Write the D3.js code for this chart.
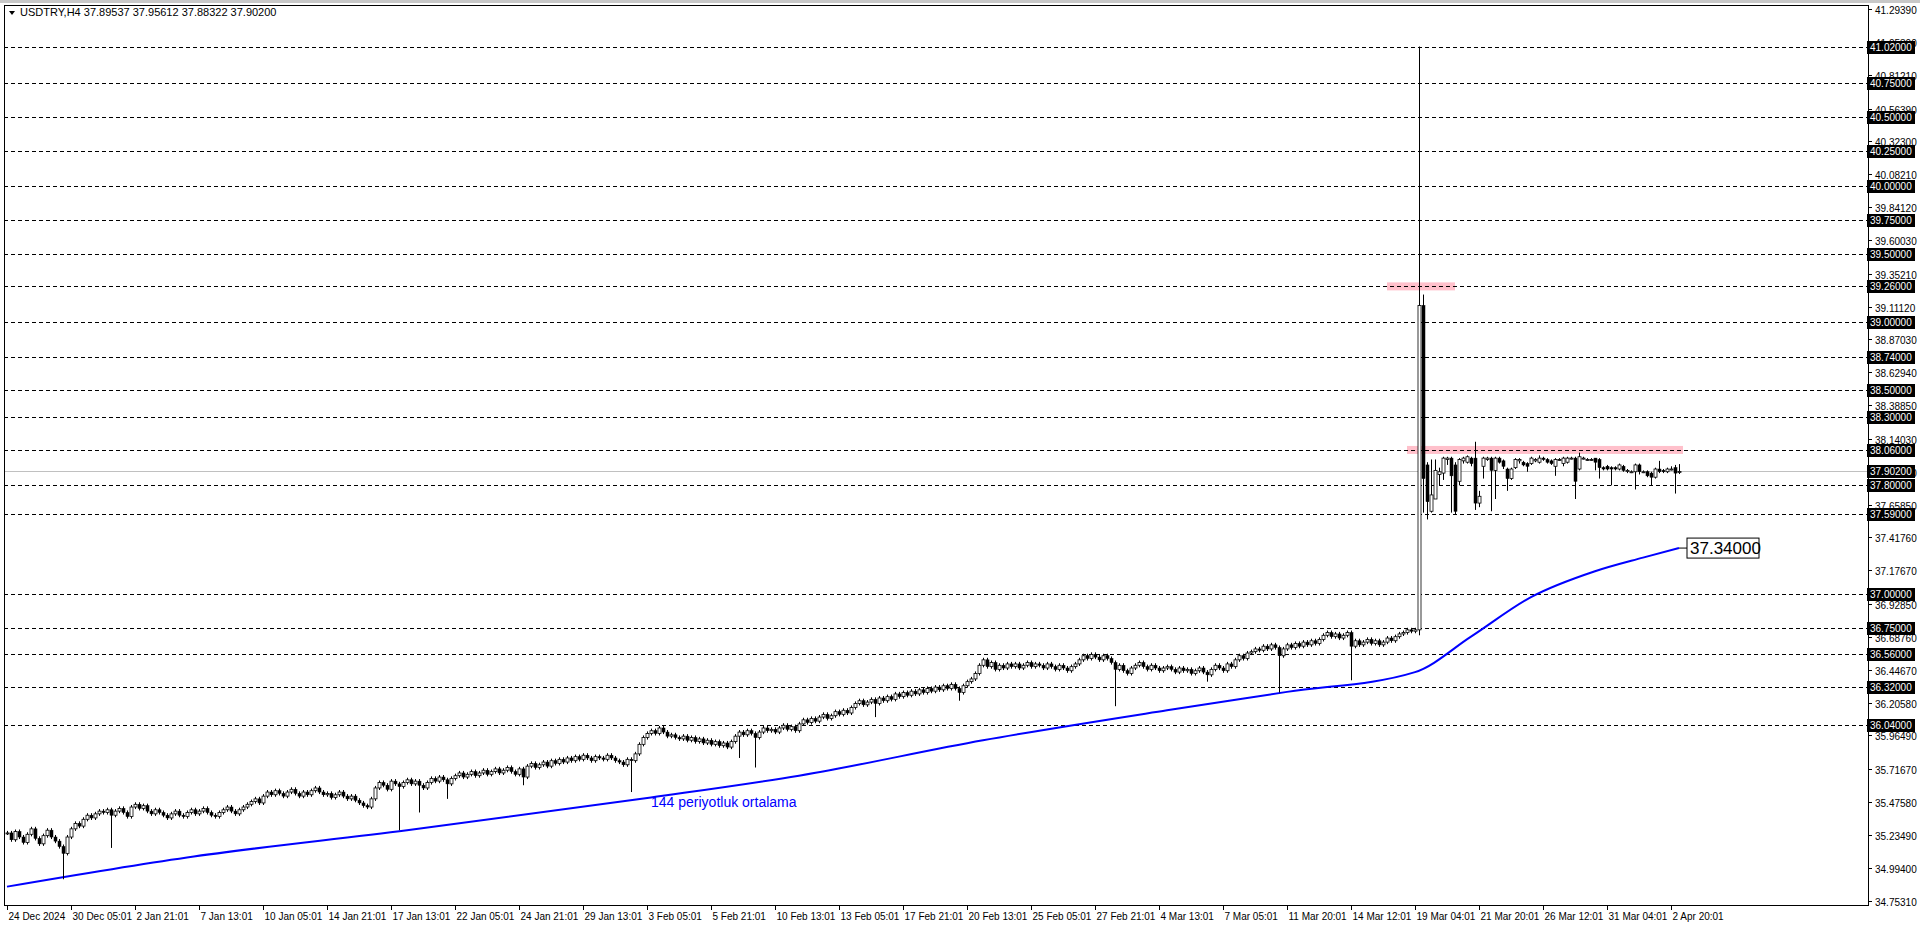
<!DOCTYPE html>
<html><head><meta charset="utf-8">
<script src="https://cdn.jsdelivr.net/npm/d3@7/dist/d3.min.js"></script>
<style>body{margin:0;background:#fff}svg{display:block}</style></head>
<body><svg id="c" width="1920" height="927"></svg>
<script>
const title = "USDTRY,H4  37.89537 37.95612 37.88322 37.90200";
// pre-spike closes (H4 bars)
const closes = [
35.25,35.20,35.26,35.22,35.18,35.24,35.28,35.21,35.17,35.23,35.27,35.22,35.19,35.15,35.10,35.22,
35.28,35.32,35.30,35.35,35.38,35.36,35.39,35.41,35.40,35.42,35.38,35.41,35.43,35.40,35.37,
35.44,35.46,35.43,35.45,35.41,35.39,35.42,35.40,35.38,35.36,35.39,35.41,35.38,35.37,35.40,35.42,35.39,35.41,35.43,35.40,35.38,35.37,35.40,35.42,35.44,35.41,35.39,35.42,35.44,35.46,
35.48,35.50,35.47,35.52,35.55,35.53,35.56,35.54,35.52,35.55,35.57,35.54,35.52,35.55,35.53,35.56,35.58,35.55,35.53,35.54,35.51,35.53,35.55,35.52,35.50,35.52,35.49,35.47,35.45,35.44,
35.50,35.58,35.62,35.60,35.57,35.63,35.61,35.59,35.62,35.64,35.61,35.63,35.60,35.58,35.62,35.65,35.63,35.66,35.64,35.61,35.65,35.67,35.69,35.66,35.68,35.70,35.67,35.69,35.71,35.68,
35.70,35.72,35.69,35.71,35.73,35.70,35.68,35.72,35.66,35.74,35.76,35.73,35.75,35.77,35.74,35.78,35.76,35.79,35.77,35.80,35.78,35.81,35.79,35.82,35.80,35.78,35.81,35.80,35.79,35.82,
35.80,35.78,35.77,35.75,35.79,35.78,35.83,35.90,35.95,35.98,
36.00,35.98,36.02,35.99,35.96,35.97,35.95,35.94,35.96,35.93,35.95,35.92,35.94,35.91,35.93,35.90,35.92,35.89,35.91,35.88,35.92,35.96,35.99,35.97,36.00,35.98,35.95,35.99,36.02,36.00,
36.01,35.99,36.02,36.04,36.01,36.03,36.00,36.05,36.08,36.06,36.09,36.07,36.10,36.12,36.09,36.11,36.14,36.12,36.15,36.13,36.17,36.20,36.22,36.19,36.21,36.23,36.20,36.24,36.22,36.25,
36.23,36.27,36.25,36.28,36.26,36.29,36.27,36.30,36.28,36.31,36.29,36.32,36.30,36.33,36.31,36.34,36.31,36.28,36.33,36.36,36.38,36.42,36.48,36.52,36.47,36.50,36.45,36.48,36.46,36.49,
36.47,36.49,36.46,36.48,36.50,36.47,36.49,36.48,36.46,36.49,36.47,36.45,36.48,36.46,36.44,36.47,36.49,36.52,36.55,36.53,36.56,36.54,36.52,36.55,36.53,36.50,36.45,36.48,36.44,36.42,
36.46,36.48,36.50,36.47,36.45,36.48,36.46,36.44,36.46,36.47,36.45,36.43,36.46,36.44,36.45,36.42,36.44,36.46,36.43,36.41,36.45,36.48,36.46,36.44,36.49,36.47,36.52,36.55,36.53,36.57,
36.58,36.60,36.59,36.62,36.60,36.63,36.61,36.55,36.60,36.63,36.61,36.64,36.62,36.65,36.63,36.66,36.64,36.67,36.70,36.72,36.69,36.71,36.68,36.70,36.72,36.62,36.66,36.63,36.65,36.67,
36.64,36.66,36.63,36.65,36.68,36.66,36.69,36.71,36.72,36.74,36.73,36.74
];
const wickIdx = [14,26,98,103,110,129,156,183,187,217,238,277,300,318,336];
const wickLow = [34.91,35.14,35.27,35.40,35.50,35.60,35.55,35.80,35.73,36.10,36.22,36.18,36.36,36.28,36.37];
// spike and later bars: [open, close, high, low]
const lateBars = [
[36.74,39.12,41.02,36.70],[39.12,37.85,39.20,37.60],
[37.95,37.68,37.97,37.55],[37.61,37.73,37.99,37.60],[37.70,37.91,37.99,37.70],[37.88,37.90,37.93,37.80],
[37.89,38.00,38.01,37.84],[37.99,38.00,38.01,37.95],[38.00,37.87,38.01,37.60],[37.95,37.61,37.97,37.59],
[37.83,37.99,38.00,37.80],[37.98,38.00,38.01,37.96],[37.97,38.01,38.02,37.96],[38.00,37.96,38.01,37.94],
[38.00,37.67,38.12,37.62],[37.67,37.72,37.76,37.64],[37.94,38.00,38.01,37.85],[37.99,38.00,38.01,37.98],
[38.00,37.91,38.01,37.61],[37.91,38.00,38.01,37.70],[38.00,37.97,38.01,37.96],[37.98,37.94,37.99,37.92],
[37.92,37.85,37.93,37.76],[37.85,37.92,37.93,37.84],[37.93,37.99,38.00,37.92],[37.98,37.99,38.00,37.96],
[37.97,37.95,37.98,37.94],[37.96,37.94,37.97,37.90],[37.96,38.00,38.01,37.95],[37.98,37.99,38.00,37.97],
[37.97,38.00,38.02,37.96],[38.00,37.99,38.01,37.98],[37.99,37.97,38.00,37.96],[37.98,37.96,37.99,37.95],
[37.94,37.99,38.00,37.87],[37.99,37.99,38.00,37.98],[37.96,38.00,38.01,37.94],[37.97,38.00,38.01,37.96],
[38.00,38.00,38.01,37.99],[38.00,37.83,38.01,37.70],[37.92,38.01,38.04,37.91],[38.00,38.00,38.01,37.99],
[37.99,37.99,38.00,37.98],[37.99,37.99,38.00,37.98],[38.00,37.97,38.00,37.91],[37.99,37.93,38.00,37.85],
[37.93,37.92,37.94,37.91],[37.94,37.92,37.95,37.91],[37.93,37.92,37.94,37.80],[37.93,37.92,37.94,37.91],
[37.92,37.95,37.96,37.91],[37.94,37.91,37.95,37.90],[37.91,37.91,37.92,37.89],[37.90,37.90,37.91,37.89],
[37.90,37.95,37.96,37.77],[37.95,37.90,37.96,37.88],[37.90,37.90,37.91,37.89],[37.90,37.87,37.91,37.86],
[37.89,37.86,37.90,37.80],[37.86,37.92,37.93,37.85],[37.92,37.90,37.98,37.89],[37.91,37.90,37.92,37.89],
[37.90,37.92,37.93,37.89],[37.92,37.92,37.94,37.91],[37.93,37.89,37.95,37.74],[37.89537,37.902,37.95612,37.88322]
];
const maIdx = [0,45,100,161,198,244,290,320,352,366,381,397,409,418];
const maVal = [34.856,35.07,35.27,35.51,35.67,35.93,36.15,36.285,36.43,36.69,36.98,37.17,37.27,37.34];
const levels = [41.02,40.75,40.50,40.25,40.00,39.75,39.50,39.26,39.00,38.74,38.50,38.30,38.06,37.80,37.59,37.00,36.75,36.56,36.32,36.04];
const priceTicks = ["41.29390","41.05300","40.81210","40.56390","40.32300","40.08210","39.84120","39.60030","39.35210","39.11120","38.87030","38.62940","38.38850","38.14030","37.89940","37.65850","37.41760","37.17670","36.92850","36.68760","36.44670","36.20580","35.96490","35.71670","35.47580","35.23490","34.99400","34.75310"];
const timeLabels = ["24 Dec 2024","30 Dec 05:01","2 Jan 21:01","7 Jan 13:01","10 Jan 05:01","14 Jan 21:01","17 Jan 13:01","22 Jan 05:01","24 Jan 21:01","29 Jan 13:01","3 Feb 05:01","5 Feb 21:01","10 Feb 13:01","13 Feb 05:01","17 Feb 21:01","20 Feb 13:01","25 Feb 05:01","27 Feb 21:01","4 Mar 13:01","7 Mar 05:01","11 Mar 20:01","14 Mar 12:01","19 Mar 04:01","21 Mar 20:01","26 Mar 12:01","31 Mar 04:01","2 Apr 20:01"];
const zones = [{p:39.26,i0:-8,i1:9},{p:38.06,i0:-3,i1:66}];
const current = 37.902, maLabel = "37.34000", maText = "144 periyotluk ortalama";

const bars = [];
closes.forEach((c,i)=>{
  const o = i===0 ? c : closes[i-1];
  let h = Math.max(o,c)+0.015, l = Math.min(o,c)-0.015;
  const k = wickIdx.indexOf(i); if(k>=0) l = wickLow[k];
  bars.push({o,c,h,l});
});
lateBars.forEach(b=>bars.push({o:b[0],c:b[1],h:b[2],l:b[3]}));
const spikeStart = closes.length;

const L=4,R=1868,T=5,B=905;
const svg=d3.select("#c");
const x=d3.scaleLinear().domain([0,1]).range([L+3,L+7]);
const y=d3.scaleLinear().domain([41.02,37.59]).range([46.5,514]);
const font="'Liberation Sans', Arial, sans-serif";

svg.append("rect").attr("x",0).attr("y",0).attr("width",1920).attr("height",3).attr("fill","#c8c8c8");
const g=svg.append("g");
zones.forEach(z=>{
  const i0=spikeStart+z.i0, i1=spikeStart+z.i1;
  g.append("rect").attr("x",x(i0)).attr("width",x(i1)-x(i0)).attr("y",y(z.p)-4).attr("height",8).attr("fill","#ffc0cb");
});
levels.forEach(p=>g.append("line").attr("x1",L).attr("x2",R).attr("y1",Math.round(y(p))+0.5).attr("y2",Math.round(y(p))+0.5)
  .attr("stroke","#000").attr("stroke-width",1).attr("stroke-dasharray","4,3"));
g.append("line").attr("x1",L).attr("x2",R).attr("y1",Math.round(y(current))+0.5).attr("y2",Math.round(y(current))+0.5).attr("stroke","#c0c0c0");
const maPts=maIdx.map((d,i)=>[x(d),y(maVal[i])]);
g.append("path").attr("d",d3.line().curve(d3.curveMonotoneX)(maPts)).attr("fill","none").attr("stroke","#0000ff").attr("stroke-width",2);
const cg=g.append("g");
bars.forEach((b,i)=>{
  const cx=Math.round(x(i))+0.5;
  cg.append("line").attr("x1",cx).attr("x2",cx).attr("y1",y(b.h)).attr("y2",y(b.l)).attr("stroke","#000");
  const top=y(Math.max(b.o,b.c)), bot=y(Math.min(b.o,b.c));
  const up=b.c>=b.o;
  cg.append("rect").attr("x",cx-1.5).attr("width",3).attr("y",top).attr("height",Math.max(bot-top,1))
    .attr("fill",up?"#fff":"#000").attr("stroke","#000").attr("stroke-width",up?0.8:0.5);
});
svg.append("rect").attr("x",L+0.5).attr("y",T+0.5).attr("width",R-L).attr("height",B-T).attr("fill","none").attr("stroke","#000");
svg.append("path").attr("d",`M9,11 L15,11 L12,15 Z`).attr("fill","#000");
svg.append("text").attr("x",20).attr("y",16).attr("font-family",font).attr("font-size",11).attr("fill","#000").text(title);
priceTicks.forEach(t=>{
  const yy=Math.round(y(+t))+0.5;
  svg.append("line").attr("x1",R).attr("x2",R+4).attr("y1",yy).attr("y2",yy).attr("stroke","#000");
  svg.append("text").attr("x",R+7).attr("y",yy+4).attr("font-family",font).attr("font-size",10).attr("fill","#000").text(t);
});
const lab=(p,txt)=>{
  const yy=Math.round(y(p));
  svg.append("rect").attr("x",R-1).attr("y",yy-6).attr("width",48).attr("height",13).attr("fill","#000");
  svg.append("text").attr("x",R+2).attr("y",yy+4).attr("font-family",font).attr("font-size",10).attr("fill","#fff").text(txt);
};
levels.forEach(p=>lab(p,p.toFixed(5)));
lab(current,current.toFixed(5));
timeLabels.forEach((t,k)=>{
  const xx=Math.round(x(k*16))+0.5;
  svg.append("line").attr("x1",xx).attr("x2",xx).attr("y1",B).attr("y2",B+5).attr("stroke","#000");
  svg.append("text").attr("x",xx+1).attr("y",B+15).attr("font-family",font).attr("font-size",10).attr("fill","#000").text(t);
});
const last=maPts[maPts.length-1];
svg.append("line").attr("x1",last[0]).attr("x2",last[0]+8).attr("y1",last[1]).attr("y2",last[1]).attr("stroke","#000");
svg.append("rect").attr("x",last[0]+8).attr("y",last[1]-10).attr("width",72).attr("height",20).attr("fill","#fff").attr("stroke","#000");
svg.append("text").attr("x",last[0]+11).attr("y",last[1]+6).attr("font-family",font).attr("font-size",17).attr("fill","#000").text(maLabel);
svg.append("text").attr("x",x(161)).attr("y",y(35.44)).attr("font-family",font).attr("font-size",14).attr("fill","#0000ff").text(maText);
</script></body></html>
